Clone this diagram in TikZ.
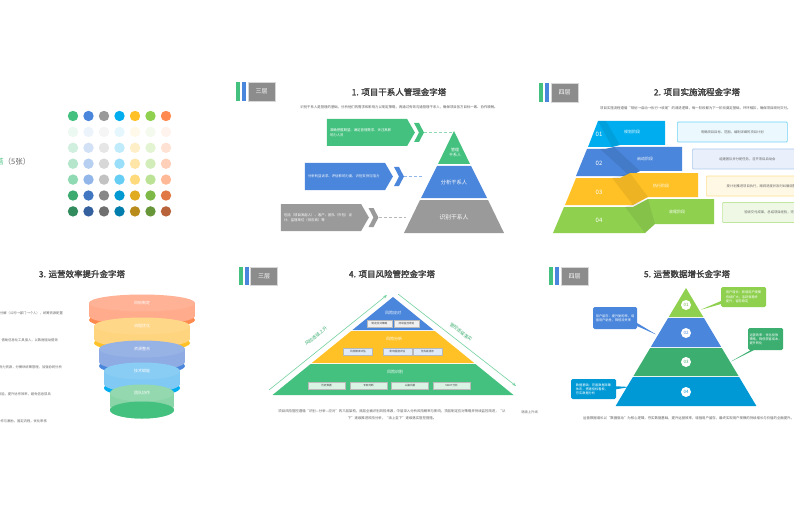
\documentclass[tikz,border=0pt]{standalone}
\usepackage{fontspec}
\setmainfont{Noto Sans CJK SC}[AutoFakeBold=2]
\usepackage{tikz}
\usetikzlibrary{positioning,arrows.meta,shapes.symbols,shapes.callouts}

\definecolor{cgreen}{HTML}{45C17F}
\definecolor{cgreenD}{HTML}{3BAE70}
\definecolor{cblue}{HTML}{4A86DB}
\definecolor{cgray}{HTML}{9A9A9A}
\definecolor{ccyan}{HTML}{00AEEF}
\definecolor{ccyanD}{HTML}{0099D6}
\definecolor{cyellow}{HTML}{FFC125}
\definecolor{clime}{HTML}{8FD14F}
\definecolor{corange}{HTML}{FF8A50}
\definecolor{ctext}{HTML}{404040}
\definecolor{tagc}{HTML}{8C8C8C}
\definecolor{orgL}{HTML}{FFAB8C}
\definecolor{yelL}{HTML}{FFD47F}
\definecolor{bluL}{HTML}{8EABE3}
\definecolor{cyaL}{HTML}{7FC9F4}
\definecolor{grnL}{HTML}{8AD5A8}

\begin{document}
\begin{tikzpicture}[x=1pt, y=-1pt,
    ttl/.style={font=\fontsize{8.5}{10}\selectfont\bfseries, text=ctext},
    sub/.style={font=\fontsize{3.4}{4.4}\selectfont, text=ctext!85, inner sep=0pt},
    tag/.style={rectangle, fill=tagc, draw=white!65!tagc, line width=0.8pt, minimum width=27pt, minimum height=19pt, inner sep=0pt, text=white, font=\fontsize{6}{7}\selectfont},
    lay/.style={text=white, align=center, inner sep=0pt},
    sig/.style={signal, signal to=east, signal pointer angle=120, minimum width=88pt, minimum height=27pt, inner sep=2pt, text width=74pt, align=left, text=white, font=\fontsize{3.4}{4.6}\selectfont},
    chev/.style={signal, signal from=west, signal to=east, signal pointer angle=125, minimum width=9pt, minimum height=19pt, inner sep=0pt},
    dsh/.style={dash pattern=on 3pt off 2pt, line width=0.9pt},
    desc/.style={rectangle, rounded corners=1pt, line width=0.7pt, minimum width=110pt, minimum height=20pt, anchor=west, text=ctext!80, font=\fontsize{3.3}{4}\selectfont},
    stg/.style={text=white, inner sep=0pt, font=\fontsize{4}{5}\selectfont},
    idx/.style={text=white, inner sep=0pt, font=\fontsize{6}{7}\selectfont},
    mini/.style={rectangle, draw=gray!55, line width=0.4pt, minimum height=7pt, inner sep=0pt, text=ctext, font=\fontsize{2.6}{3}\selectfont},
    trend/.style={-{Stealth[length=4pt,width=3pt]}, line width=0.6pt, draw=cgreen!75},
    trlbl/.style={text=cgreen!90!black, font=\fontsize{4.5}{5}\selectfont, inner sep=0pt},
    num/.style={circle, fill=white, minimum size=10pt, inner sep=0pt, font=\fontsize{4.5}{5}\selectfont},
    bub/.style={rectangle callout, rounded corners=1.5pt, callout pointer width=3pt, text=white, align=left, inner sep=1.5pt, font=\fontsize{3.2}{4.2}\selectfont},
    note/.style={text=ctext!80, font=\fontsize{3.3}{4}\selectfont, anchor=east, inner sep=0pt}
]
\useasboundingbox (0,0) rectangle (794,513);
\fill[white] (0,0) rectangle (794,513);
\clip (0,0) rectangle (794,513);

% colour chart
\node[anchor=west, inner sep=0pt, font=\fontsize{7.5}{9}\selectfont] (ttl0) at (-4,162) {\textcolor{cgreen}{塔}\textcolor{ctext!80}{（5张）}};
\foreach \c [count=\i from 0] in {cgreen,cblue,cgray,ccyan,cyellow,clime,corange}
  \foreach \m [count=\j from 0] in {!100,!10,!25,!40,!60,!88!black,!72!black}
    \fill[\c\m] (73+15.5*\i, 116+15.9*\j) circle (5.2);

% 1. stakeholders
\fill[cgreen] (236,82) rectangle (240,101);
\fill[cblue] (241.5,82) rectangle (245.5,101);
\node[tag] (tagA) at (261.5,91.5) {三层};
\node[ttl] (ttlA) at (399,92) {1. 项目干系人管理金字塔};
\node[sub] (subA) at (399,107) {识别干系人是管理的基础，分析他们的需求和影响力以制定策略，再通过有效沟通管理干系人，确保项目各方目标一致、协作顺畅。};

\fill[cgreen] (454,131) -- (470,164) -- (438,164) -- cycle;
\fill[cblue] (437,166) -- (471,166) -- (487,198) -- (421,198) -- cycle;
\fill[cgray] (420,200) -- (488,200) -- (504,233) -- (404,233) -- cycle;
\node[lay, font=\fontsize{4}{5}\selectfont] (pA1) at (455,152) {管理\\干系人};
\node[lay, font=\fontsize{5.3}{6}\selectfont] (pA2) at (454,182) {分析干系人};
\node[lay, font=\fontsize{5.8}{7}\selectfont] (pA3) at (454,217) {识别干系人};

\node[sig, fill=cgreen] (sA1) at (367,132.5) {准确把握期望、满足管理需求、关注高影\\响力人员};
\node[sig, fill=cblue] (sA2) at (345,176.5) {分析利益诉求、评估影响力度、识别支持与阻力};
\node[sig, fill=cgray] (sA3) at (321,217.5) {包括（项目发起人）、客户、团队（外包）设\\计、监理单位（供应商）等};
\node[chev, fill=cgreen] (chA1) at (419,132.5) {};
\node[chev, fill=cblue] (chA2) at (399,176.5) {};
\node[chev, fill=cgray] (chA3) at (373.5,217.5) {};
\coordinate (tipA1) at (453,132.5);
\coordinate (tipA2) at (423,176.5);
\coordinate (tipA3) at (406,217.5);
\draw[dsh, cgreen!60] (chA1) -- (tipA1);
\draw[dsh, cblue!60] (chA2) -- (tipA2);
\draw[dsh, cgray!70] (chA3) -- (tipA3);

% 2. implementation flow
\fill[cgreen] (539,83) rectangle (543,102);
\fill[cblue] (545,83) rectangle (549,102);
\node[tag] (tagB) at (564.5,92.5) {四层};
\node[ttl] (ttlB) at (697,92) {2. 项目实施流程金字塔};
\node[sub, anchor=west] (subB) at (600,108) {项目实施流程遵循“规划→启动→执行→收尾”的递进逻辑，每一阶段都为下一阶段奠定基础，环环相扣，确保项目顺利交付。};

\fill[ccyan] (598,121) -- (665,121) -- (665,145) -- (620,145) -- (612,147) -- (588,147) -- cycle;
\fill[black, opacity=0.08] (598,121) -- (606,121) -- (620,145) -- (612,147) -- cycle;
\fill[cblue] (587,149) -- (605,149) -- (614,147) -- (682,147) -- (682,171) -- (640,171) -- (630,176) -- (576,176) -- cycle;
\fill[black, opacity=0.08] (600,149) -- (614,147) -- (640,171) -- (630,176) -- cycle;
\fill[cyellow] (576,178) -- (620,178) -- (630,173) -- (698,173) -- (698,197) -- (648,197) -- (633,205) -- (565,205) -- cycle;
\fill[black, opacity=0.07] (612,178) -- (630,173) -- (648,197) -- (633,205) -- cycle;
\fill[clime] (564,207) -- (633,207) -- (648,199) -- (714,199) -- (714,224) -- (655,224) -- (645,233) -- (553,233) -- cycle;
\fill[black, opacity=0.07] (625,207) -- (648,199) -- (655,224) -- (645,233) -- cycle;
\node[idx] (iB1) at (599,134) {01};
\node[idx] (iB2) at (599,163) {02};
\node[idx] (iB3) at (599,192) {03};
\node[idx] (iB4) at (599,220) {04};
\node[stg] (gB1) at (632,132) {规划阶段};
\node[stg] (gB2) at (645,159) {启动阶段};
\node[stg] (gB3) at (661,186) {执行阶段};
\node[stg] (gB4) at (677,212) {收尾阶段};
\node[desc, fill=ccyan!8, draw=ccyan!55] (dB1) at (677,132) {明确项目目标、范围，编制详细的项目计划};
\node[desc, fill=cblue!12, draw=cblue!45] (dB2) at (692,159) {组建团队并分配任务，召开项目启动会};
\node[desc, fill=cyellow!12, draw=cyellow!50] (dB3) at (706,186) {按计划推进项目执行，跟踪进度并及时纠偏调整};
\node[desc, fill=clime!15, draw=clime!55] (dB4) at (722,212.5) {验收交付成果，总结项目经验，完成项目收尾};

% 3. efficiency funnel
\node[ttl] (ttlC) at (82,274) {3. 运营效率提升金字塔};
\node[note] (nC1) at (63,313) {明确目标分解（公司→部门→个人），统筹资源配置};
\node[note] (nC2) at (58,340) {搭建标准化流程体系，借助信息化工具接入，以数据驱动提效};
\node[note] (nC3) at (62,367) {整合人力物力资源，分模块统筹管理，加强协同分析};
\node[note] (nC4) at (51,394) {引入数字化技术赋能，提升协作效率，避免信息孤岛};
\node[note] (nC5) at (47,421) {强化团队协作与激励，固定流程，优化审核};
\foreach \yt/\rx/\lt/\dk/\lbl [count=\i] in {303/53/orgL/corange/目标制定, 326/48/yelL/cyellow/流程优化, 349/43/bluL/cblue/资源整合, 371/38/cyaL/ccyan/技术赋能, 393/32/grnL/cgreen/团队协作} {
  \fill[\dk] (142,\yt+17) ellipse [x radius=\rx, y radius=8.5];
  \fill[\lt] (142-\rx,\yt) rectangle (142+\rx,\yt+13);
  \fill[\lt] (142,\yt+13) ellipse [x radius=\rx, y radius=8.5];
  \fill[\lt!92!white] (142,\yt) ellipse [x radius=\rx, y radius=8.5];
  \node[stg] (fC\i) at (142,\yt) {\lbl};
}
\fill[cgreen] (142,410) ellipse [x radius=32, y radius=8.5];

% 4. risk control
\fill[cgreen] (239,267) rectangle (243,285);
\fill[cblue] (244.5,267) rectangle (248.5,285);
\node[tag, minimum height=18pt] (tagD) at (264,276) {三层};
\node[ttl] (ttlD) at (392,274) {4. 项目风险管控金字塔};
\fill[cblue] (393,297) -- (433.6,330) -- (352.4,330) -- cycle;
\fill[cyellow] (351.2,331) -- (434.8,331) -- (474.2,363) -- (311.8,363) -- cycle;
\fill[cgreen] (310.6,364) -- (475.4,364) -- (513.5,395) -- (272.5,395) -- cycle;
\node[stg] (lD1) at (393,313) {风险应对};
\node[stg] (lD2) at (394,339) {风险分析};
\node[stg] (lD3) at (395,372) {风险识别};
\node[mini, fill=gray!12, minimum width=25pt] (mD1) at (379.5,323.5) {制定应对策略};
\node[mini, fill=gray!12, minimum width=25pt] (mD2) at (406.5,323.5) {持续监控改进};
\node[mini, fill=cblue!18, minimum width=29pt] (mD3) at (358,351.5) {风险概率评估};
\node[mini, fill=cblue!18, minimum width=29pt] (mD4) at (397.5,351.5) {影响程度评估};
\node[mini, fill=cblue!18, minimum width=29pt] (mD5) at (427.5,351.5) {优先级排序};
\node[mini, fill=cgreen!20, minimum width=37pt] (mD6) at (326.5,385.5) {历史数据};
\node[mini, fill=cgreen!20, minimum width=37pt] (mD7) at (368.5,385.5) {专家判断};
\node[mini, fill=cgreen!20, minimum width=37pt] (mD8) at (410,385.5) {头脑风暴};
\node[mini, fill=cgreen!20, minimum width=37pt] (mD9) at (451.5,385.5) {SWOT分析};
\coordinate (tL0) at (269,390);
\coordinate (tL1) at (387,295);
\coordinate (tR0) at (398,294);
\coordinate (tR1) at (516,386);
\draw[trend] (tL0) -- (tL1);
\draw[trend] (tR0) -- (tR1);
\node[trlbl, rotate=39] (trL) at (316,336) {风险逐级上升};
\node[trlbl, rotate=-38] (trR) at (461,332) {管控逐级落实};
\node[sub, align=center, font=\fontsize{3.4}{7}\selectfont] (capD) at (392,414.5) {项目风险管控遵循“识别—分析—应对”的三层架构，底层全面识别风险来源，中层深入分析风险概率与影响，顶层制定应对策略并持续监控改进，“从\\下”逐级推进风险分析，“由上至下”逐级落实管控措施。};

% 5. data growth
\fill[cgreen] (549,267) rectangle (553,285);
\fill[cblue] (555,267) rectangle (559,285);
\node[tag, minimum height=18pt] (tagE) at (574.5,276) {四层};
\node[ttl] (ttlE) at (687,274) {5. 运营数据增长金字塔};
\node[note, anchor=east] (nE0) at (538,412) {逐级上升线};
\fill[clime] (686,288) -- (703.3,317) -- (668.7,317) -- cycle;
\fill[cblue] (668.1,318) -- (703.9,318) -- (721.2,347) -- (650.8,347) -- cycle;
\fill[cgreenD] (650.2,348) -- (721.8,348) -- (738.5,376) -- (633.5,376) -- cycle;
\fill[ccyanD] (632.9,377) -- (739.1,377) -- (756.4,406) -- (615.6,406) -- cycle;
\node[num, text=clime!85!black] (nE1) at (686,305) {01};
\node[num, text=cblue] (nE2) at (686,333) {02};
\node[num, text=cgreenD] (nE3) at (686,362) {03};
\node[num, text=ccyanD] (nE4) at (686,392) {04};
\coordinate (pE1) at (700,310);
\coordinate (pE2) at (657,335);
\coordinate (pE3) at (730,362);
\coordinate (pE4) at (630,387);
\node[bub, fill=clime, callout absolute pointer=(pE1), minimum width=45pt, minimum height=20pt] (bE1) at (743.5,297) {用户增长：新增用户规模\\持续扩大，活跃度稳步\\提升，留存稳定};
\node[bub, fill=cblue, callout absolute pointer=(pE2), minimum width=44pt, minimum height=22pt] (bE2) at (615,318) {用户留存：提升复购率，增\\强用户粘性，降低流失率};
\node[bub, fill=cgreenD, callout absolute pointer=(pE3), minimum width=35pt, minimum height=22pt] (bE3) at (765.5,339) {运营效率：优化投放\\策略，降低获客成本，\\提升转化};
\node[bub, fill=ccyanD, callout absolute pointer=(pE4), minimum width=45pt, minimum height=20pt] (bE4) at (593.5,389) {数据基础：完善数据采集\\体系，搭建指标看板，\\夯实数据分析};
\node[sub, anchor=west] (capE) at (583,418) {运营数据增长以“数据驱动”为核心逻辑，夯实数据基础，提升运营效率，增强用户留存，最终实现用户规模的持续增长与价值的全面提升。};

\end{tikzpicture}
\end{document}
